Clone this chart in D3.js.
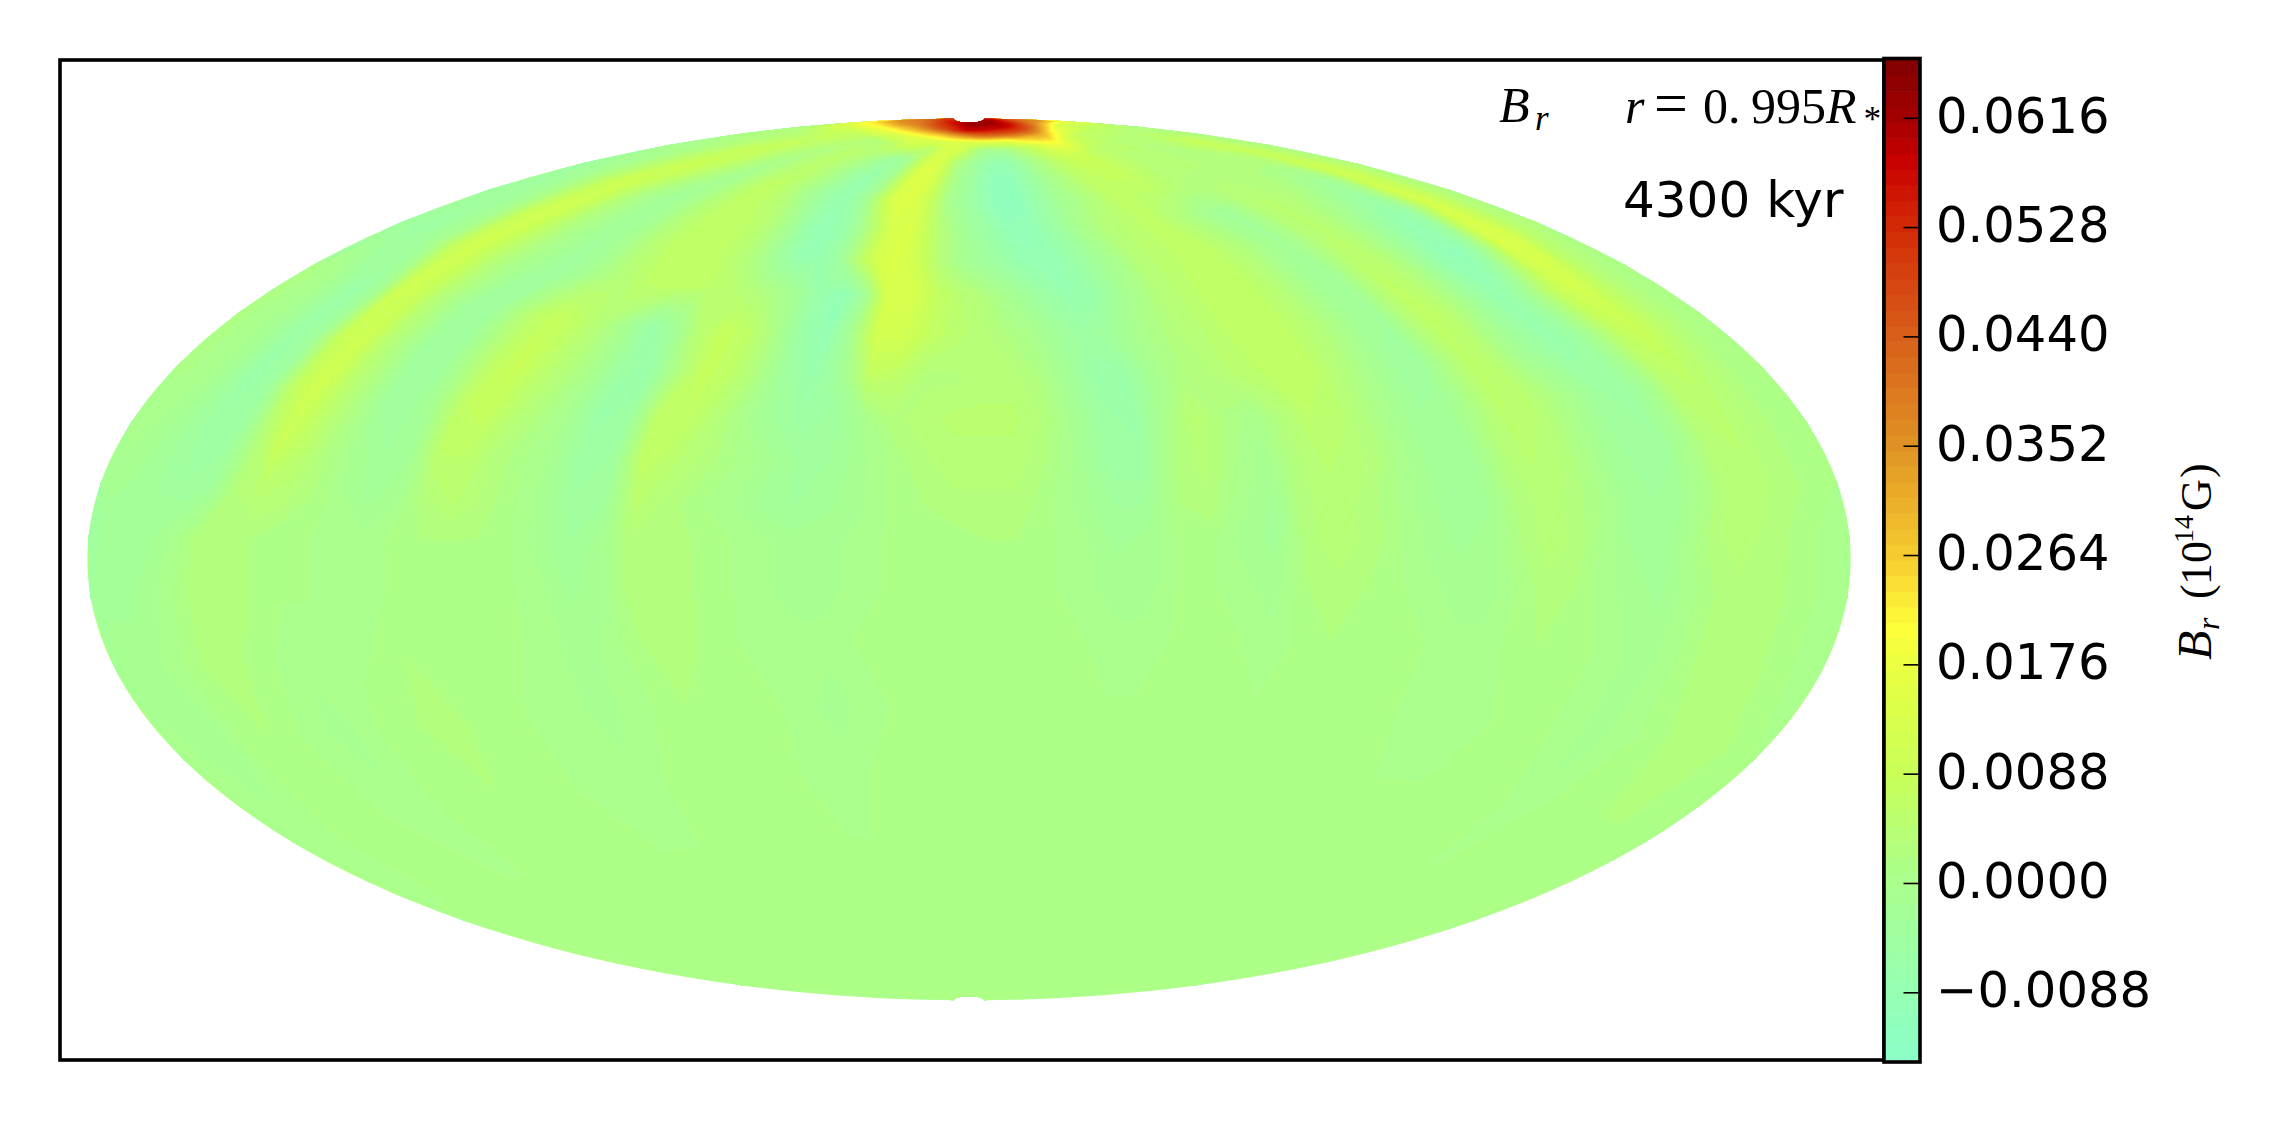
<!DOCTYPE html>
<html>
<head>
<meta charset="utf-8">
<script src="https://cdn.jsdelivr.net/npm/d3@7/dist/d3.min.js"></script>
<style>html,body{margin:0;padding:0;background:#fff;overflow:hidden}svg{display:block}</style>
</head>
<body>
<svg id="chart" width="2282" height="1122"></svg>
<script>
// Latitude of each row of the field, degrees
const latitudes = [88.5,87,85.5,84,82,79,75,70,64,57,50,42,34,26,18,10,3,-5,-15,-27,-40,-55,-75];
// Longitudes: 60 columns, 6 degrees wide, from -180 to 180
const lonEdges = [-180,180];
// B_r, in units of 1e-3 (x 1e14 G); one row per latitude, west to east
const row88 = [52,52,52,52,52,53,53,54,54,55, 55,55,56,56,56,57,57,57,58,58, 58,59,59,60,60,61,61,62,62,62, 63,63,63,63,63,63,63,63,63,63, 63,63,63,63,63,63,63,63,63,63, 63,62,62,62,61,61,60,59,58,56];
const row87 = [40,40,40,40,41,41,42,42,43,43, 44,44,45,45,46,46,47,47,48,48, 49,50,51,52,53,54,55,56,57,58, 58,58,58,58,58,58,58,58,58,58, 58,58,58,58,59,59,59,59,59,58, 57,56,55,53,52,50,48,46,44,42];
const row85 = [36,36,35,35,34,33,32,31,30,30, 29,29,28,28,28,27,27,27,27,27, 27,27,28,29,30,31,32,33,34,35, 36,38,39,40,41,42,42,43,43,44, 45,45,46,46,47,47,47,47,47,46, 45,44,42,40,38,36,35,35,35,36];
const row84 = [24,24,23,22,21,20,19,18,17,17, 16,15,15,15,14,14,14,14,14,14, 14,14,14,14,14,14,14,14,14,14, 14,15,15,16,16,17,17,18,19,21, 24,26,27,28,29,30,31,31,30,28, 25,22,20,18,16,15,14,14,16,20];
const row82 = [14,14,13,12,10,9,8,7,7,6, 5,4,4,4,4,5,6,8,9,9, 9,8,6,5,8,11,13,13,11,8, 5,2,0,-1,-1,0,1,3,5,7, 9,11,14,17,19,20,20,17,13,10, 9,8,7,7,8,8,7,7,8,11];
const row79 = [3,3,4,5,6,7,7,6,5,4, 3,3,4,5,5,4,3,1,0,-2, -4,-3,0,5,11,14,13,8,3,0, -2,-5,-7,-8,-8,-6,-3,0,2,4, 6,8,9,10,10,9,7,6,5,5, 5,5,4,4,4,4,4,4,3,3];
const row75 = [2,2,3,5,7,8,8,6,4,2, 1,2,4,5,5,4,2,0,-3,-5, -7,-5,-1,6,13,15,13,7,1,-2, -5,-9,-11,-11,-9,-6,-3,0,2,4, 6,7,8,8,8,7,6,5,4,4, 4,4,3,2,3,5,7,8,6,3];
const row70 = [0,0,2,5,8,9,8,6,3,1, -1,1,4,6,7,5,3,0,-3,-6, -8,-6,-1,7,14,15,12,6,0,-3, -6,-10,-12,-11,-8,-5,-2,0,2,4, 6,6,6,6,6,5,4,3,3,3, 3,3,3,3,3,3,4,8,7,3];
const row64 = [-3,-2,1,5,9,10,7,3,0,-2, -3,0,3,5,7,7,6,5,2,-2, -7,-9,-7,-1,6,13,14,8,3,-1, -4,-7,-10,-10,-7,-4,0,2,4,5, 6,6,4,2,0,-2,-2,1,4,5, 4,3,2,0,-2,-3,1,10,9,4];
const row57 = [-3,-4,-2,2,9,11,8,4,1,-1, -3,-2,1,4,6,7,7,6,4,1, -4,-8,-8,-4,5,13,14,10,4,0, -3,-5,-8,-9,-8,-5,-2,1,4,5, 6,7,6,4,2,-1,-2,1,4,5, 3,0,-3,-6,-8,-6,4,13,8,3];
const row50 = [-4,-5,-3,0,8,11,8,4,1,-1, -3,-3,-1,2,4,6,7,7,6,5, 3,1,-2,-7,-10,-2,13,13,8,5, 3,0,-3,-6,-8,-6,-2,1,4,5, 7,7,6,4,1,-2,-3,2,6,5, 2,-3,-8,-11,-7,2,14,13,6,3];
const row42 = [1,0,-3,-6,-2,11,9,4,0,-4, -3,2,6,8,6,3,-1,-6,-2,5, 8,6,1,-6,-9,0,12,11,7,5, 4,2,0,-3,-5,-3,0,2,4,5, 7,7,6,4,1,-2,-3,3,7,5, 1,-4,-8,-4,3,10,12,7,3,1];
const row34 = [1,0,-2,-6,-3,8,11,5,1,-4, -4,1,6,9,6,3,0,-5,-6,2, 8,6,2,-4,-7,-2,7,6,3,3, 4,4,2,-2,-6,-6,-1,2,3,5, 6,7,6,3,0,-3,-4,2,6,4, -1,-4,-7,-5,1,7,9,6,3,1];
const row26 = [1,0,-2,-6,-5,6,11,6,2,-3, -4,0,7,8,5,2,-1,-6,-5,6, 7,4,0,-3,-5,-4,0,3,4,5, 5,5,3,-1,-5,-6,0,5,2,0, 3,6,5,2,-1,-3,-2,2,6,5, 2,-1,-4,-5,-1,5,6,4,2,1];
const row18 = [0,-1,-3,-5,-5,2,9,6,2,-1, -3,-2,6,6,3,1,-1,-5,-4,7, 5,3,1,-1,-3,-3,-1,1,3,4, 4,4,2,-1,-5,-5,2,4,1,-1, 3,5,4,2,-1,-3,-2,3,5,4, 1,-2,-4,-4,0,4,5,3,2,1];
const row10 = [-1,-2,-3,-4,-3,3,5,4,2,0, -2,-1,3,5,3,1,-1,-4,-3,5, 3,1,0,-2,-3,-2,-1,1,2,3, 3,3,1,-1,-3,-3,2,3,0,-2, 3,4,3,1,-1,-3,-2,2,4,3, 1,-2,-3,-2,1,4,4,3,2,1];
const row03 = [-3,-2,-2,0,3,3,2,1,1,0, 0,1,2,2,2,1,-1,-3,-1,3, 3,2,1,0,-1,-1,0,1,1,1, 2,2,1,0,-2,-1,1,1,-1,-2, 3,4,3,1,-1,-2,-1,2,4,3, 0,-2,-3,0,3,4,3,2,1,0];
const rowS05 = [-2,-2,-1,1,3,3,2,1,1,0, 0,1,2,2,2,1,0,-2,-1,3, 3,2,1,0,-1,-1,0,1,1,1, 1,1,1,0,-1,-1,1,1,0,-1, 2,3,2,1,0,-1,-1,1,3,2, 0,-1,-2,0,2,3,3,2,1,0];
const rowS15 = [-1,-1,0,2,3,2,1,0,0,0, 1,2,2,2,1,1,0,-1,0,2, 3,2,1,0,0,0,1,1,1,1, 1,1,1,1,0,0,1,1,1,0, 1,2,2,1,1,0,0,1,2,2, 1,0,-1,0,2,3,3,2,1,0];
const rowS27 = [0,-1,-1,2,2,1,0,-1,0,2, 2,3,2,1,1,0,0,-1,0,1, 2,2,1,1,0,-1,0,1,2,2, 1,1,1,1,1,1,1,1,1,1, 1,1,1,1,1,0,0,0,1,1, 1,0,-1,0,1,2,3,3,2,1];
const rowS40 = [0,0,1,2,2,1,0,0,1,1, 2,2,1,1,1,0,0,0,1,1, 2,2,1,1,0,0,1,1,1,1, 1,1,1,1,1,1,1,1,1,1, 1,1,1,1,1,1,1,1,1,1, 1,1,0,1,1,2,2,2,1,1];
const rowS55 = [1,1,1,1,2,1,1,1,1,1, 1,1,1,1,1,1,1,1,1,1, 1,1,1,1,1,1,1,1,1,1, 1,1,1,1,1,1,1,1,1,1, 1,1,1,1,1,1,1,1,1,1, 1,1,1,1,1,1,1,1,1,1];
const rowS75 = [1,1,1,1,1,1,1,1,1,1, 1,1,1,1,1,1,1,1,1,1, 1,1,1,1,1,1,1,1,1,1, 1,1,1,1,1,1,1,1,1,1, 1,1,1,1,1,1,1,1,1,1, 1,1,1,1,1,1,1,1,1,1];
const fieldRows = [row88,row87,row85,row84,row82,row79,row75,row70,row64,row57,row50,row42,row34,row26,row18,row10,row03,rowS05,rowS15,rowS27,rowS40,rowS55,rowS75];
const fieldUnit = 1e-3;

// Colour bar
const colorTicks = [-0.0088,0,0.0088,0.0176,0.0264,0.0352,0.0440,0.0528,0.0616];
const colorRange = [-0.01425,0.06625];
const levelCount = 64;
const colorStops  = [-0.01425,-0.0088,0,0.0088,0.0176,0.0206,0.0264,0.0352,0.0440,0.0528,0.0580,0.0616,0.06625];
const colorValues = ["#8cffc8","#95ffb3","#a9ff8e","#c8ff58","#eaff40","#ffff3a","#f6cb30","#e09224","#d85f1a","#d42a06","#c80000","#a40000","#800000"];

const poleLimit = 89;
const svg = d3.select("#chart");
const color = d3.scaleLinear().domain(colorStops).range(colorValues).interpolate(d3.interpolateRgb).clamp(true);
const levelStep = (colorRange[1]-colorRange[0])/levelCount;
const thresholds = d3.range(levelCount).map(i => colorRange[0]+i*levelStep);

// Hammer projection
function hammerRaw(l, p){
  const z = Math.sqrt(1+Math.cos(p)*Math.cos(l/2));
  return [2*Math.SQRT2*Math.cos(p)*Math.sin(l/2)/z, Math.SQRT2*Math.sin(p)/z];
}
const projection = d3.geoProjection(hammerRaw).scale(311.7).translate([969,559.5]).precision(0.1);

const ny = latitudes.length, nx = fieldRows[0].length;
const lonOf = d3.scaleLinear().domain([0,nx]).range(lonEdges);
const latOf = d3.scaleLinear()
  .domain([0,...latitudes.map((_,i)=>i+0.5),ny])
  .range([poleLimit,...latitudes,-poleLimit]);
const toScreen = d3.geoTransform({point(x,y){
  const p = projection([lonOf(x),latOf(y)]);
  this.stream.point(p[0],p[1]);
}});
const path = d3.geoPath(toScreen);

// base shape of the map so that the corners of the grid are covered
const west = d3.range(-poleLimit,poleLimit+0.5,1).map(la=>[-180,la]);
const top_ = d3.range(-180,181,6).map(lo=>[lo,poleLimit]);
const east = d3.range(poleLimit,-poleLimit-0.5,-1).map(la=>[180,la]);
const bot_ = d3.range(180,-181,-6).map(lo=>[lo,-poleLimit]);
const outline = [...west,...top_,...east,...bot_].map(d=>projection(d));
const map = svg.append("g").attr("class","map");
map.append("path").attr("d",d3.line()(outline)+"Z").attr("fill",color(0.0012));

const flat = fieldRows.flat().map(v=>v*fieldUnit);
const contours = d3.contours().size([nx,ny]).smooth(true).thresholds(thresholds)(flat);
map.selectAll("path.band").data(contours).join("path").attr("class","band")
  .attr("d",path)
  .attr("fill",d=>color(d.value+levelStep/2));

// axes frame
svg.append("rect").attr("x",60).attr("y",60).attr("width",1824).attr("height",1000)
  .attr("fill","none").attr("stroke","#000").attr("stroke-width",3.6);

// colour bar
const barX0=1884, barX1=1920;
const yBar = d3.scaleLinear().domain(colorRange).range([1060,60]);
svg.append("g").selectAll("rect").data(thresholds).join("rect")
  .attr("x",barX0).attr("width",barX1-barX0)
  .attr("y",d=>yBar(d+levelStep)).attr("height",d=>yBar(d)-yBar(d+levelStep)+0.6)
  .attr("fill",d=>color(d+levelStep/2));
const fmt = v => (v<0?"\u2212":"")+Math.abs(v).toFixed(4);
const axis = d3.axisRight(yBar).tickValues(colorTicks).tickSize(-15).tickPadding(0).tickFormat(fmt);
const gAxis = svg.append("g").attr("transform",`translate(${barX1-1.5},0)`).call(axis);
gAxis.select(".domain").remove();
gAxis.selectAll(".tick line").attr("stroke","#000").attr("stroke-width",1.6);
gAxis.selectAll(".tick text")
  .attr("x",1936-barX1+1.5).attr("dy",null).attr("y",14.5)
  .attr("text-anchor","start")
  .style("font-family","'DejaVu Sans'").style("font-size","49.6px").attr("fill","#000");
svg.append("rect").attr("x",barX0).attr("y",58.5).attr("width",barX1-barX0).attr("height",1003.5)
  .attr("fill","none").attr("stroke","#000").attr("stroke-width",3.6);

// annotations
const serif = "'Liberation Serif'";
const t1 = svg.append("text").attr("y",122).style("font-family",serif).style("font-size","50px");
t1.append("tspan").attr("x",1499).style("font-style","italic").text("B");
t1.append("tspan").attr("x",1535).attr("dy",8).style("font-style","italic").style("font-size","35px").text("r");

const t2 = svg.append("text").attr("y",123).style("font-family",serif).style("font-size","50px");
t2.append("tspan").attr("x",1625).style("font-style","italic").text("r");
t2.append("tspan").attr("x",1654).style("font-size","60px").text("=");
t2.append("tspan").attr("x",1703).text("0.");
t2.append("tspan").attr("x",1751).text("995");
t2.append("tspan").attr("x",1826).style("font-style","italic").text("R");
t2.append("tspan").attr("x",1862).attr("dy",8).style("font-style","italic").style("font-size","35px").text("*");

svg.append("text").attr("x",1623).attr("y",217)
  .style("font-family","'DejaVu Sans'").style("font-size","50px").text("4300 kyr");

const t3 = svg.append("text").attr("transform","translate(2211,660) rotate(-90)")
  .style("font-family",serif).style("font-size","44px");
t3.append("tspan").attr("x",0).style("font-style","italic").style("font-size","48px").text("B");
t3.append("tspan").attr("x",30).attr("dy",8).style("font-style","italic").style("font-size","32px").text("r");
t3.append("tspan").attr("x",61).attr("dy",-8).text("(");
t3.append("tspan").attr("x",75).text("10");
t3.append("tspan").attr("x",117).attr("dy",-18).style("font-size","28px").text("14");
t3.append("tspan").attr("x",149).attr("dy",18).text("G");
t3.append("tspan").attr("x",182).text(")");
</script>
</body>
</html>
